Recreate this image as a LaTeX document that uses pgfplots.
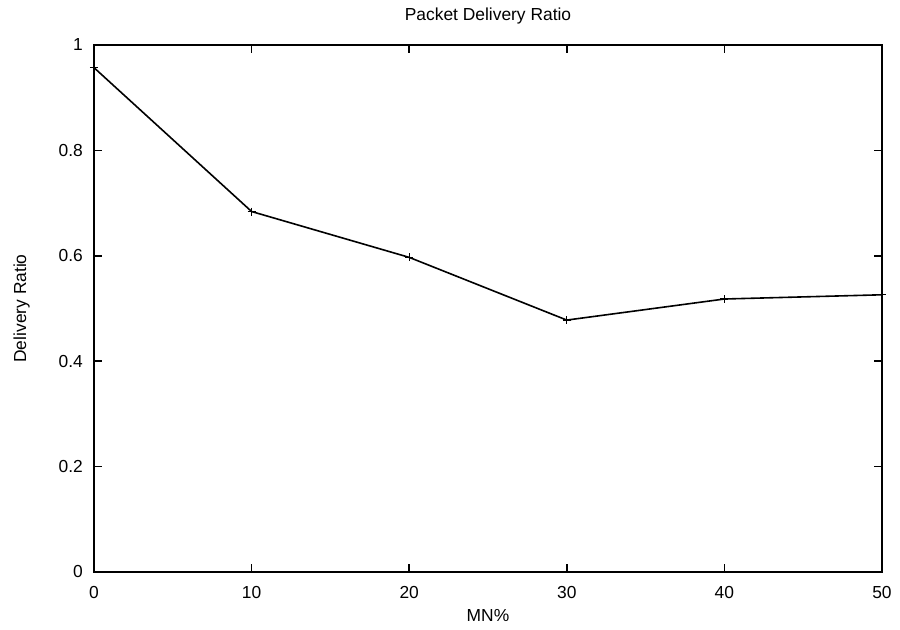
\documentclass[border=0pt]{standalone}
\usepackage{fontspec}
\setmainfont{Liberation Sans}
\usepackage{pgfplots}
\pgfplotsset{compat=1.18}

\begin{document}
\fontsize{8.7pt}{10pt}\selectfont
\begin{tikzpicture}
\begin{axis}[
  name=ax,
  at={(0,0)}, anchor=south west,
  scale only axis,
  width=394pt, height=263.5pt,
  xmin=0, xmax=50, ymin=0, ymax=1,
  xtick={0,10,20,30,40,50},
  ytick={0,0.2,0.4,0.6,0.8,1},
  yticklabels={0,0.2,0.4,0.6,0.8,1},
  tick align=inside,
  major tick length=4pt,
  tick style={black, line width=0.8pt},
  axis line style={line width=0.9pt},
  /pgf/number format/assume math mode=true,
  ticklabel style={font=\fontsize{8.7pt}{10pt}\selectfont},
  xticklabel style={yshift=-4pt},
  yticklabel style={xshift=-2.5pt},
  title={Packet Delivery Ratio},
  title style={font=\fontsize{8.7pt}{10pt}\selectfont, yshift=1.2pt},
  xlabel={MN\%},
  ylabel={Delivery Ratio},
  label style={font=\fontsize{8.7pt}{10pt}\selectfont},
  ylabel style={yshift=8.5pt},
  xlabel style={yshift=0.5pt},
]
\addplot[black, line width=0.8pt, mark=+, mark size=2pt, mark options={line width=0.6pt}]
  coordinates {(0,0.957) (10,0.684) (20,0.597) (30,0.478) (40,0.518) (50,0.526)};
\end{axis}
\pgfresetboundingbox
\path[use as bounding box] ([xshift=-47pt,yshift=-29pt]ax.south west) rectangle ([xshift=9pt,yshift=22.5pt]ax.north east);
\end{tikzpicture}
\end{document}
